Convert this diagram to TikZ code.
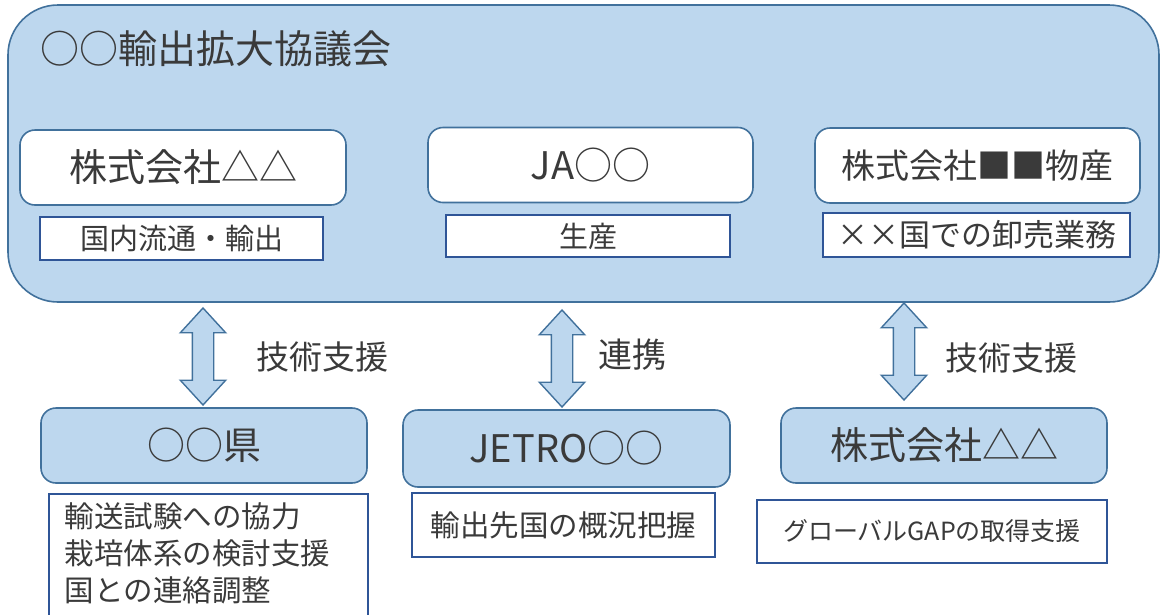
\documentclass[tikz,border=0pt]{standalone}
\usepackage{fontspec}
\setmainfont{Noto Sans CJK JP}
\usetikzlibrary{shapes.arrows}

\definecolor{paleblue}{RGB}{189,215,238}
\definecolor{edgeblue}{RGB}{65,113,156}
\definecolor{darkedge}{RGB}{47,85,151}
\definecolor{inkgray}{RGB}{58,58,58}

\newcommand{\jsize}[1]{\fontsize{#1}{#1}\selectfont}

\tikzset{
  orgbox/.style = {draw = edgeblue, line width = 1.6pt, rounded corners = 15pt,
    minimum width = 326pt, minimum height = 75pt, inner sep = 0pt, text = inkgray},
  rolebox/.style = {draw = darkedge, line width = 1.6pt, fill = white,
    inner sep = 0pt, text = inkgray},
  linkarrow/.style = {double arrow, rotate = 90, draw = edgeblue, fill = paleblue,
    line width = 1.4pt, minimum height = 97pt, inner sep = 10pt,
    double arrow head extend = 12pt, double arrow tip angle = 85},
  linklabel/.style = {text = inkgray, inner sep = 0pt}
}

\begin{document}
\begin{tikzpicture}
        [x = 1pt, y = -1pt]

        \useasboundingbox (0,0) rectangle (1162,614);

        % council
        \node[draw = edgeblue, fill = paleblue, line width = 1.6pt, rounded corners = 50pt,
          minimum width = 1151pt, minimum height = 297pt, inner sep = 0pt] (council) at (583.5,153.5) {};
        \node[anchor = west, inner sep = 0pt, text = inkgray] (title) at (40,49)
          {\jsize{39}○○輸出拡大協議会};

        \node[orgbox, fill = white] (co1) at (183,167.5) {\jsize{38}株式会社△△};
        \node[orgbox, fill = white, minimum width = 325pt] (ja) at (590.5,165) {\jsize{38}JA○○};
        \node[orgbox, fill = white, minimum width = 325pt] (co3) at (977.5,165.5) {\jsize{34}株式会社■■物産};

        \node[rolebox, minimum width = 283pt, minimum height = 43pt] (role1) at (181.5,238.5) {\jsize{29}国内流通・輸出};
        \node[rolebox, minimum width = 284pt, minimum height = 42pt] (role2) at (588,236) {\jsize{29}生産};
        \node[rolebox, minimum width = 307pt, minimum height = 44pt] (role3) at (976.5,235) {\jsize{31}××国での卸売業務};

        % partners
        \node[orgbox, fill = paleblue] (pref) at (204,445.5) {\jsize{38}○○県};
        \node[orgbox, fill = paleblue, minimum width = 327pt, minimum height = 77pt] (jetro) at (566.5,448.5) {\jsize{38}JETRO○○};
        \node[orgbox, fill = paleblue] (co4) at (944,445.5) {\jsize{38}株式会社△△};

        \node[rolebox, anchor = north west, inner xsep = 16pt, inner ysep = 9pt, text width = 287pt,
          align = left, text depth = 100pt, font = \fontsize{29.5}{37}\selectfont] (task1) at (48,493)
          {輸送試験への協力\\栽培体系の検討支援\\国との連絡調整};
        \node[rolebox, minimum width = 303pt, minimum height = 64pt] (task2) at (563.5,525) {\jsize{29.5}輸出先国の概況把握};
        \node[rolebox, minimum width = 350pt, minimum height = 63pt] (task3) at (932,531.5) {\jsize{25}グローバルGAPの取得支援};

        % links
        \foreach \x/\y/\name in {203/356.5/link1, 562/358.5/link2, 904/351.5/link3}
          \node[linkarrow] (\name) at (\x,\y) {};
        \node[linklabel] (lab1) at (322.5,357) {\jsize{33}技術支援};
        \node[linklabel] (lab2) at (632.5,355) {\jsize{34}連携};
        \node[linklabel] (lab3) at (1011.5,358) {\jsize{33}技術支援};
      \end{tikzpicture}
\end{document}
